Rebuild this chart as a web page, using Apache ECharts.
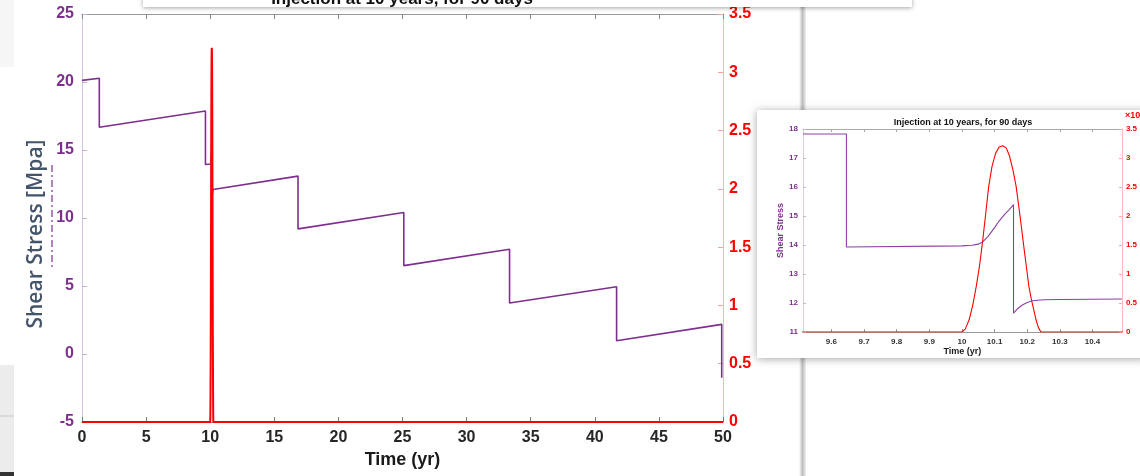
<!DOCTYPE html>
<html>
<head>
<meta charset="utf-8">
<script src="https://cdn.jsdelivr.net/npm/echarts@6/dist/echarts.min.js"></script>
<style>
html,body{margin:0;padding:0;background:#fff;}
#chart{width:1140px;height:476px;}
</style>
</head>
<body>
<div id="chart"></div>
<script>
// ---- Main figure data (time in years) ----
const mainTime  = [0, 1.35, 1.35, 9.63, 9.63, 10.05, 10.157, 10.157, 10.22, 16.85, 16.85, 25.1, 25.1, 33.35, 33.35, 41.7, 41.7, 49.9, 49.9];
const mainShear = [20.12, 20.27, 16.67, 17.87, 13.93, 13.97, 15.39, 11.65, 12.1, 13.08, 9.2, 10.4, 6.5, 7.7, 3.75, 4.95, 0.98, 2.18, -1.75];
// injection rate (right axis)
const injTime = [0, 10.0, 10.01, 10.022, 10.033, 10.044, 10.054, 10.063, 10.072, 10.082, 10.092, 10.103, 10.114, 10.125, 10.136, 10.146, 10.156, 10.166, 10.178, 10.19, 10.198, 10.205, 10.212, 10.22, 10.227, 10.234, 10.242, 50];
const injRate = [0, 0, 0.05, 0.21, 0.46, 0.79, 1.15, 1.55, 2.0, 2.51, 2.85, 3.08, 3.19, 3.21, 3.17, 3.03, 2.8, 2.51, 2.0, 1.45, 1.1, 0.79, 0.58, 0.38, 0.21, 0.08, 0, 0];
// ---- Inset (zoom around injection) ----
const zoomTime  = [9.513, 9.646, 9.646, 10.0, 10.03, 10.05, 10.063, 10.08, 10.1, 10.112, 10.13, 10.145, 10.158, 10.158, 10.17, 10.185, 10.2, 10.216, 10.25, 10.3, 10.49];
const zoomShear = [17.83, 17.83, 13.93, 13.97, 13.99, 14.03, 14.1, 14.3, 14.6, 14.8, 15.05, 15.22, 15.39, 11.65, 11.8, 11.93, 12.02, 12.08, 12.11, 12.12, 12.14];
// tick labels
const mainXTicks = [0, 50, 5];
const mainYLeft = [-5, 25, 5];
const rightY = [0, 3.5, 0.5];
const zoomXTicks = [9.6, 9.7, 9.8, 9.9, 10, 10.1, 10.2, 10.3, 10.4];
const zoomYLeft = [11, 18, 1];
const zoomXRange = [9.513, 10.49];

const PURPLE = '#7E2F8E';
const RED = '#FF0000';
const FONT = '"Liberation Sans", Arial, sans-serif';

const pair = (xs, ys) => xs.map((x, i) => [x, ys[i]]);

const chart = echarts.init(document.getElementById('chart'), null, {renderer: 'canvas'});

const boldLabel = (color, size, margin) => ({color: color, fontSize: size, fontWeight: 'bold', fontFamily: FONT, margin: margin});

const option = {
  backgroundColor: '#fff',
  animation: false,
  grid: [
    {left: 82, right: 417, top: 14, bottom: 54},
    {left: 803, right: 17, top: 129, bottom: 144}
  ],
  xAxis: [
    {gridIndex: 0, type: 'value', min: mainXTicks[0], max: mainXTicks[1], interval: mainXTicks[2], position: 'bottom',
     name: 'Time (yr)', nameLocation: 'middle', nameGap: 29,
     nameTextStyle: {color: '#1a1a1a', fontSize: 18, fontWeight: 'bold', fontFamily: FONT},
     axisLine: {show: true, onZero: false, lineStyle: {color: '#888', width: 1}},
     axisTick: {show: true, inside: true, length: 5, lineStyle: {color: '#777'}},
     axisLabel: boldLabel('#262626', 16, 8),
     splitLine: {show: false}},
    {gridIndex: 0, type: 'value', min: mainXTicks[0], max: mainXTicks[1], interval: mainXTicks[2], position: 'top',
     axisLine: {show: true, onZero: false, lineStyle: {color: '#999', width: 1}},
     axisTick: {show: true, inside: true, length: 5, lineStyle: {color: '#888'}},
     axisLabel: {show: false}, splitLine: {show: false}},
    {gridIndex: 1, type: 'value', min: zoomXRange[0], max: zoomXRange[1], position: 'bottom', z: 10,
     name: 'Time (yr)', nameLocation: 'middle', nameGap: 14,
     nameTextStyle: {color: '#1a1a1a', fontSize: 9, fontWeight: 'bold', fontFamily: FONT},
     axisLine: {show: true, onZero: false, lineStyle: {color: '#999', width: 1}},
     axisTick: {show: true, inside: true, length: 3, customValues: zoomXTicks, lineStyle: {color: '#999'}},
     axisLabel: Object.assign(boldLabel('#333', 8, 6), {customValues: zoomXTicks, formatter: v => String(+v.toFixed(1))}),
     splitLine: {show: false}},
    {gridIndex: 1, type: 'value', min: zoomXRange[0], max: zoomXRange[1], position: 'top', z: 10,
     axisLine: {show: true, onZero: false, lineStyle: {color: '#aaa', width: 1}},
     axisTick: {show: true, inside: true, length: 3, customValues: zoomXTicks, lineStyle: {color: '#aaa'}},
     axisLabel: {show: false, customValues: zoomXTicks}, splitLine: {show: false}}
  ],
  yAxis: [
    {gridIndex: 0, type: 'value', min: mainYLeft[0], max: mainYLeft[1], interval: mainYLeft[2], position: 'left',
     axisLine: {show: true, onZero: false, lineStyle: {color: '#d6c4de', width: 1}},
     axisTick: {show: true, inside: true, length: 5, lineStyle: {color: '#c9b1d2'}},
     axisLabel: boldLabel(PURPLE, 16, 8),
     splitLine: {show: false}},
    {gridIndex: 0, type: 'value', min: rightY[0], max: rightY[1], interval: rightY[2], position: 'right',
     axisLine: {show: true, onZero: false, lineStyle: {color: '#ffb4b4', width: 1}},
     axisTick: {show: true, inside: true, length: 5, lineStyle: {color: '#ffa0a0'}},
     axisLabel: boldLabel(RED, 16, 6),
     splitLine: {show: false}},
    {gridIndex: 1, type: 'value', min: zoomYLeft[0], max: zoomYLeft[1], interval: zoomYLeft[2], position: 'left', z: 10,
     name: 'Shear Stress', nameLocation: 'middle', nameGap: 17,
     nameTextStyle: {color: PURPLE, fontSize: 9, fontWeight: 'bold', fontFamily: FONT},
     axisLine: {show: true, onZero: false, lineStyle: {color: '#dccde3', width: 1}},
     axisTick: {show: true, inside: true, length: 3, lineStyle: {color: '#cbb5d3'}},
     axisLabel: boldLabel(PURPLE, 8, 5),
     splitLine: {show: false}},
    {gridIndex: 1, type: 'value', min: rightY[0], max: rightY[1], interval: rightY[2], position: 'right', z: 10,
     axisLine: {show: true, onZero: false, lineStyle: {color: '#ffbcbc', width: 1}},
     axisTick: {show: true, inside: true, length: 3, lineStyle: {color: '#ffa8a8'}},
     axisLabel: boldLabel(RED, 8, 4),
     splitLine: {show: false}}
  ],
  series: [
    {type: 'line', name: 'Shear', xAxisIndex: 0, yAxisIndex: 0, data: pair(mainTime, mainShear),
     showSymbol: false, lineStyle: {color: PURPLE, width: 1.6}, z: 3},
    {type: 'line', name: 'Injection', xAxisIndex: 0, yAxisIndex: 1, data: pair(injTime, injRate),
     showSymbol: false, lineStyle: {color: RED, width: 2}, z: 4},
    {type: 'line', name: 'Injection zoom', xAxisIndex: 2, yAxisIndex: 3, data: pair(injTime, injRate),
     showSymbol: false, lineStyle: {color: RED, width: 1.1}, z: 11},
    {type: 'line', name: 'Shear zoom', xAxisIndex: 2, yAxisIndex: 2, data: pair(zoomTime, zoomShear),
     showSymbol: false, lineStyle: {color: '#8d3fa0', width: 1.1}, z: 12}
  ],
  graphic: [
    // left screenshot artefacts
    {type: 'rect', shape: {x: 0, y: 0, width: 14, height: 67}, style: {fill: '#f6f6f6'}, z: -1},
    {type: 'rect', shape: {x: 0, y: 365, width: 14, height: 111}, style: {fill: '#ececec'}, z: -1},
    {type: 'line', shape: {x1: 0, y1: 416, x2: 14, y2: 416}, style: {stroke: '#c8c8c8', lineWidth: 1}, z: -1},
    {type: 'rect', shape: {x: 0, y: 472, width: 14, height: 4}, style: {fill: '#333'}, z: -1},
    // covered original label dash-dot line
    {type: 'line', shape: {x1: 52, y1: 165, x2: 52, y2: 268}, style: {stroke: PURPLE, lineWidth: 1.2, lineDash: [7, 3, 2, 3]}, z: -1},
    // main y axis title
    {type: 'text', x: 36, y: 234, rotation: Math.PI / 2, z: 5,
     style: {text: 'Shear Stress [Mpa]', fill: '#44546A', font: '600 21px "Open Sans", sans-serif', align: 'center', verticalAlign: 'middle'}},
    // main window right edge
    {type: 'rect', shape: {x: 799, y: 0, width: 7, height: 476},
     style: {fill: new echarts.graphic.LinearGradient(0, 0, 1, 0, [{offset: 0, color: '#ffffff'}, {offset: 0.5, color: '#bdbdbd'}, {offset: 1, color: '#f2f2f2'}])}, z: -1},
    // header box with cut title
    {type: 'rect', shape: {x: 143, y: -4, width: 769, height: 11},
     style: {fill: '#fff', shadowBlur: 4, shadowColor: 'rgba(0,0,0,0.35)', shadowOffsetY: 1}, z: 20},
    {type: 'text', x: 402, y: -1, z: 21,
     style: {text: 'Injection at 10 years, for 90 days', fill: '#111', font: 'bold 17px ' + FONT, align: 'center', verticalAlign: 'middle'}},
    // inset panel
    {type: 'rect', shape: {x: 757, y: 110, width: 390, height: 248},
     style: {fill: '#fff', shadowBlur: 8, shadowColor: 'rgba(0,0,0,0.35)', shadowOffsetX: 0, shadowOffsetY: 1}, z: -1},
    {type: 'text', x: 963, y: 123, z: 30,
     style: {text: 'Injection at 10 years, for 90 days', fill: '#111', font: 'bold 9px ' + FONT, align: 'center', verticalAlign: 'middle'}},
    {type: 'text', x: 1125, y: 116, z: 30,
     style: {text: '×10⁷', fill: RED, font: 'bold 9px ' + FONT, align: 'left', verticalAlign: 'middle'}}
  ]
};
chart.setOption(option);
</script>
</body>
</html>
